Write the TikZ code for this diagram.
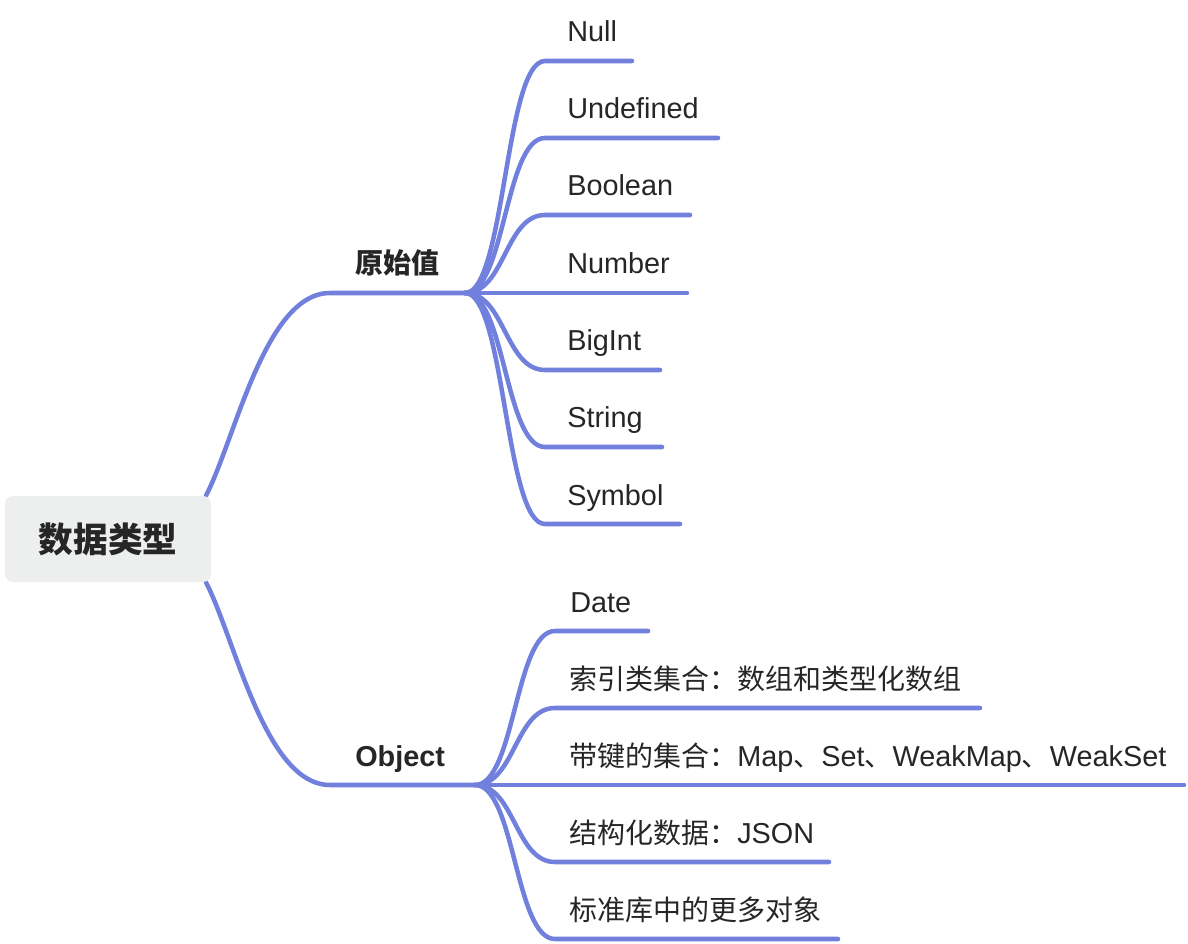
\documentclass[tikz,border=0pt]{standalone}
\usepackage{fontspec}
\setmainfont[Scale=1.03]{Liberation Sans}
\newfontfamily\cjk{Noto Sans CJK SC}
\usetikzlibrary{backgrounds,calc}
\definecolor{branch}{HTML}{7080DC}
\definecolor{txt}{HTML}{262626}
\definecolor{rootfill}{HTML}{EDEFEF}
\tikzset{
  conn/.style={draw=branch,line width=3.4pt,line cap=round,line join=round},
  leaf/.style={anchor=base west,inner sep=0pt,text=txt,font=\fontsize{21}{25}\selectfont},
  cleaf/.style={leaf,font=\fontsize{21}{25}\selectfont\cjk},
  mid/.style={anchor=base west,inner sep=0pt,text=txt,font=\fontsize{21}{25}\selectfont\bfseries},
  cmid/.style={mid,font=\fontsize{21}{25}\selectfont\cjk\bfseries},
  rootbox/.style={fill=rootfill,rounded corners=6pt,minimum width=154.5pt,minimum height=64.5pt,
    inner sep=0pt,text=txt,font=\fontsize{26}{30}\selectfont\cjk\bfseries}
}
\begin{document}
\begin{tikzpicture}[x=0.75pt,y=-0.75pt]
\useasboundingbox (0,0) rectangle (1188,944);
% root
\node[rootbox] (root) at (108,539) {数据类型};
% second level
\node[cmid] (prim) at (355,274) {原始值};
\node[mid] (obj) at (355,766) {Object};
\coordinate (jp) at (465,293);
\coordinate (jo) at (475,785);
\begin{scope}[on background layer]
\draw[conn] ([xshift=-4pt]root.north east) .. controls (235,440) and (265,293) .. (330,293) -- (jp);
\draw[conn] ([xshift=-4pt]root.south east) .. controls (235,638) and (265,785) .. (330,785) -- (jo);
\end{scope}
% primitive leaves
\foreach \i/\y/\e/\t in {1/61/632/Null, 2/138/718/Undefined, 3/215/690/Boolean, 4/293/687/Number, 5/370/660/BigInt, 6/447/662/String, 7/524/680/Symbol} {
  \node[leaf] (p\i) at (567,\y-19) {\t};
  \coordinate (pe\i) at (\e,\y);
  \draw[conn] (jp) .. controls (505,293) and (505,\y) .. (545,\y) -- (pe\i);
}
% object leaves
\node[leaf] (o1) at (570,612) {Date};
\node[cleaf] (o2) at (569,689) {索引类集合：数组和类型化数组};
\node[leaf] (o3) at (569,766) {{\cjk 带键的集合：}Map{\cjk 、}Set{\cjk 、}WeakMap{\cjk 、}WeakSet};
\node[leaf] (o4) at (569,843) {{\cjk 结构化数据：}JSON};
\node[cleaf] (o5) at (569,920) {标准库中的更多对象};
\foreach \i/\y/\e in {1/631/648, 2/708/980, 3/785/1184, 4/862/829, 5/939/838} {
  \coordinate (oe\i) at (\e,\y);
  \draw[conn] (jo) .. controls (515,785) and (515,\y) .. (555,\y) -- (oe\i);
}
\end{tikzpicture}
\end{document}
